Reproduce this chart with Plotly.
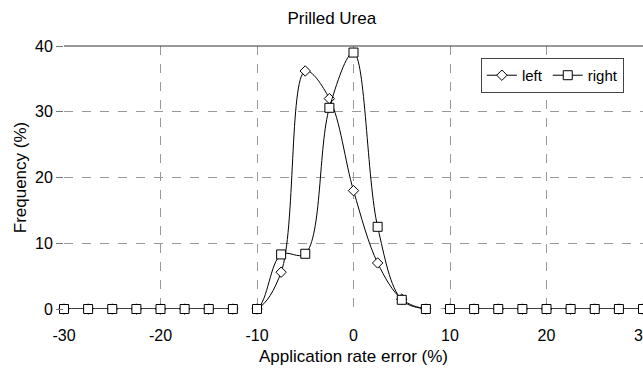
import plotly.graph_objects as go

error_pct = [-30, -27.5, -25, -22.5, -20, -17.5, -15, -12.5, -10, -7.5, -5, -2.5, 0,
             2.5, 5, 7.5, 10, 12.5, 15, 17.5, 20, 22.5, 25, 27.5, 30]
left_freq = [0, 0, 0, 0, 0, 0, 0, 0, 0, 5.6, 36.2, 32.0, 18.0,
             7.0, 1.5, 0, 0, 0, 0, 0, 0, 0, 0, 0, 0]
right_freq = [0, 0, 0, 0, 0, 0, 0, 0, 0, 8.3, 8.4, 30.6, 39.0,
              12.5, 1.4, 0, 0, 0, 0, 0, 0, 0, 0, 0, 0]
x_ticks = [-30, -20, -10, 0, 10, 20, 30]
y_ticks = [0, 10, 20, 30, 40]

FONT = "Liberation Sans, Arial, sans-serif"

fig = go.Figure()
fig.add_trace(go.Scatter(
    x=error_pct, y=left_freq, name="left", mode="lines+markers", cliponaxis=False,
    line=dict(color="black", width=1, shape="spline", smoothing=1.0),
    marker=dict(symbol="diamond", size=8, color="white",
                line=dict(color="black", width=1)),
))
fig.add_trace(go.Scatter(
    x=error_pct, y=right_freq, name="right", mode="lines+markers", cliponaxis=False,
    line=dict(color="black", width=1, shape="spline", smoothing=1.0),
    marker=dict(symbol="square", size=9, color="white",
                line=dict(color="black", width=1)),
))

fig.update_layout(
    width=643, height=370,
    margin=dict(l=64, r=0, t=46, b=61, autoexpand=False),
    paper_bgcolor="white", plot_bgcolor="white",
    font=dict(family=FONT, size=16, color="black"),
    title=dict(text="Prilled Urea", x=0.516, xanchor="center", xref="container",
               yref="container", y=1 - 18 / 370, yanchor="middle",
               font=dict(size=17)),
    showlegend=True,
    legend=dict(orientation="h", x=0.967, xanchor="right", y=0.888, yanchor="middle",
                bordercolor="#444", borderwidth=1, bgcolor="white",
                font=dict(size=15), tracegroupgap=0),
    xaxis=dict(range=[-30, 30], tickvals=x_ticks, ticktext=[str(v) for v in x_ticks],
               automargin=False,
               showgrid=True, gridcolor="#999", griddash="dash", gridwidth=1,
               zeroline=False, showline=False, ticks="outside", ticklen=12,
               tickcolor="rgba(0,0,0,0)", ticklabeloverflow="allow",
               title=dict(text="Application rate error (%)", standoff=6,
                          font=dict(size=17))),
    yaxis=dict(range=[0, 40], tickvals=y_ticks, showgrid=True, automargin=False,
               gridcolor="#999", griddash="dash", gridwidth=1,
               zeroline=False, showline=False, ticks="outside", ticklen=7,
               tickcolor="#777",
               title=dict(text="Frequency (%)", standoff=4, font=dict(size=17))),
)
fig.add_shape(type="line", xref="paper", yref="paper", x0=0, x1=1, y0=1, y1=1,
              line=dict(color="#333", width=1))
fig.write_html("out.html")
